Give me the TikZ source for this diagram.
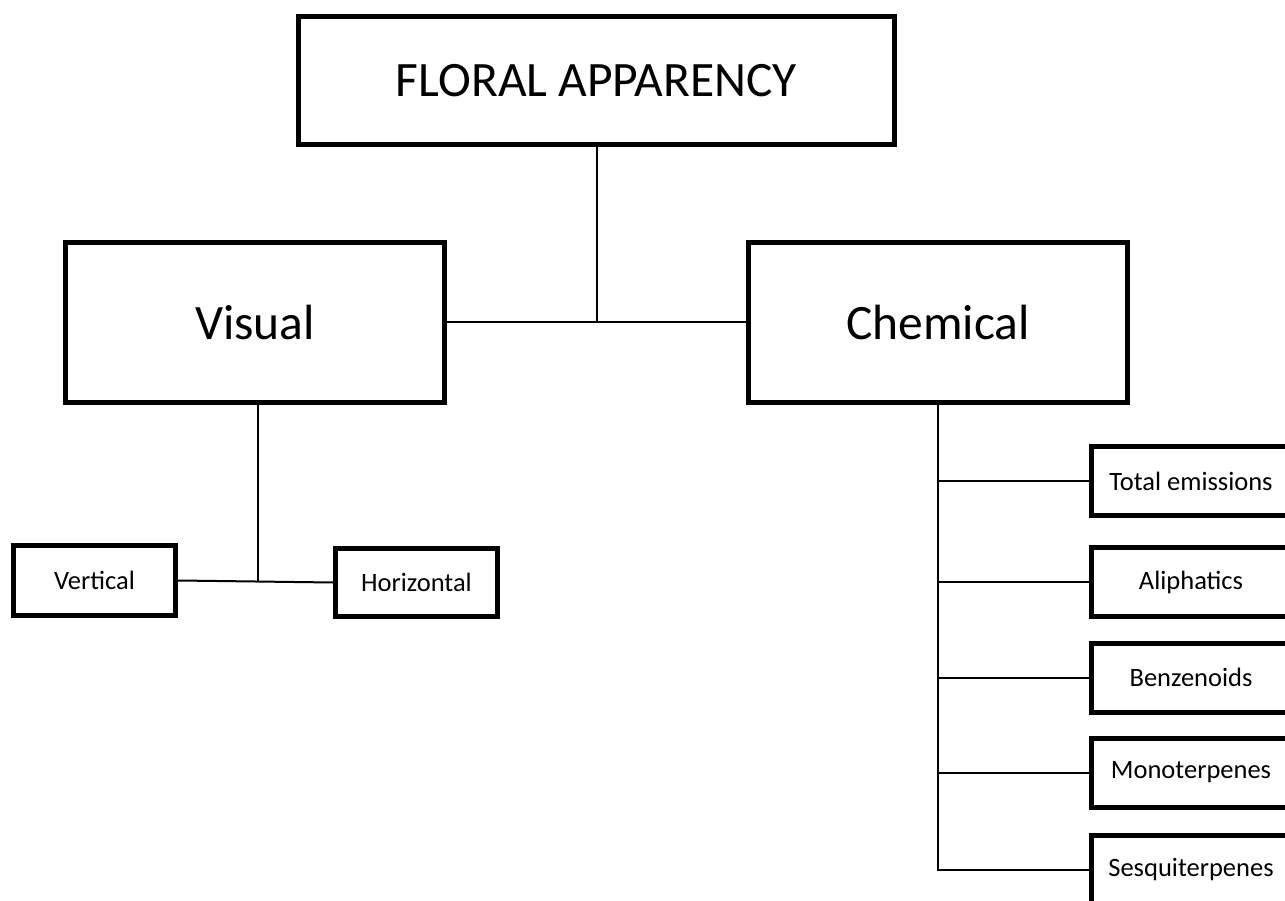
\documentclass[tikz,border=0pt]{standalone}
\usepackage{fontspec}
\setmainfont{Carlito}
\usetikzlibrary{positioning}

\begin{document}
\begin{tikzpicture}[
    x=1pt, y=-1pt,
    bigbox/.style={rectangle, draw, line width=5pt, fill=white, align=center, font=\fontsize{49.5}{58}\selectfont},
    smallbox/.style={rectangle, draw, line width=5pt, fill=white, align=center, minimum height=69pt, font=\fontsize{26.5}{32}\selectfont},
    chembox/.style={smallbox, minimum width=200pt},
    link/.style={line width=2pt}
]
\useasboundingbox (0,0) rectangle (1285,901);
\clip (0,0) rectangle (1285,901);

% Top
\node[bigbox, minimum width=596pt, minimum height=128pt] (floral) at (596.5,80.5) {FLORAL APPARENCY};

% Middle row
\node[bigbox, minimum width=379pt, minimum height=160pt] (visual) at (255,322.5) {Visual};
\node[bigbox, minimum width=379pt, minimum height=160pt] (chemical) at (938,322.5) {Chemical};

% Visual branches
\node[smallbox, minimum width=162pt, minimum height=70pt] (vertical) at (94.5,580.5) {Vertical};
\node[smallbox, minimum width=162pt, minimum height=68pt] (horizontal) at (416.5,582.5) {Horizontal};

% Chemical branches
\node[chembox] (total) at (1191,481) {Total emissions};
\node[chembox] (aliph) at (1191,582) {Aliphatics};
\node[chembox] (benz) at (1191,677.5) {Benzenoids};
\node[chembox] (mono) at (1191,772.5) {Monoterpenes};
\node[chembox] (sesq) at (1191,870) {Sesquiterpenes};

% Connections
\draw[link] (visual.east) -- (chemical.west);
\draw[link] (floral.south) -- (floral.south |- visual.east);
\draw[link] (vertical.east) -- (horizontal.west);
\draw[link] ([xshift=3pt]visual.south) -- ([xshift=3pt]visual.south |- vertical.east);
\draw[link] (chemical.south) |- (sesq.west);
\draw[link] (chemical.south |- total.west) -- (total.west);
\draw[link] (chemical.south |- aliph.west) -- (aliph.west);
\draw[link] (chemical.south |- benz.west) -- (benz.west);
\draw[link] (chemical.south |- mono.west) -- (mono.west);

\end{tikzpicture}
\end{document}
